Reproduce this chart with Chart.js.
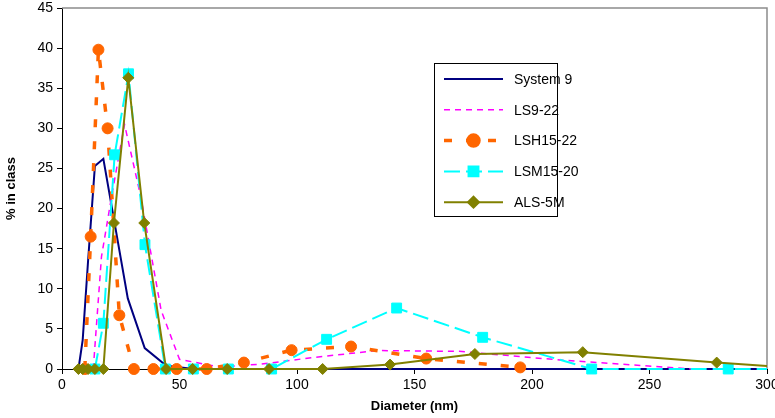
<!DOCTYPE html>
<html>
<head>
<meta charset="utf-8">
<script src="https://cdn.jsdelivr.net/npm/chart.js@4"></script>
<style>
  html, body { margin: 0; padding: 0; background: #fff; }
  canvas { display: block; }
</style>
</head>
<body>
<canvas id="psd" width="775" height="418"></canvas>
<script>
// particle size distributions
const sys9X = [7.0, 8.8, 11.1, 14.0, 17.6, 22.2, 28.0, 35.2, 44.4, 56, 70.5, 88.8, 112, 141, 178, 224, 283, 351];
const sys9Y = [0, 3.6, 13.5, 25.3, 26.2, 18.5, 8.8, 2.6, 0.4, 0, 0, 0, 0, 0, 0, 0, 0, 0];

const ls922X = [13.3, 16.8, 21.1, 26.6, 33.5, 42.2, 50, 67, 84.5, 106, 134, 169, 213, 268];
const ls922Y = [0, 14, 21.5, 30.5, 21.5, 7.3, 1.2, 0.25, 0.6, 1.4, 2.3, 2.2, 1.1, 0];

const lsh1522X = [9.7, 12.2, 15.5, 19.4, 24.4, 30.6, 38.9, 48.8, 61.6, 77.4, 97.7, 123, 155, 195];
const lsh1522Y = [0, 16.5, 39.8, 30.0, 6.7, 0, 0, 0, 0, 0.8, 2.35, 2.8, 1.3, 0.2];

const lsm1520X = [14.0, 17.6, 22.4, 28.3, 35.3, 44.0, 55.9, 70.8, 89.2, 112.6, 142.4, 179, 225.4, 283.5, 351];
const lsm1520Y = [0, 5.7, 26.7, 36.8, 15.5, 0, 0, 0, 0, 3.7, 7.6, 3.95, 0, 0, 0];

const als5mX = [7.0, 8.8, 11.1, 14.0, 17.6, 22.1, 28.2, 35.0, 44.3, 55.6, 70.3, 88.1, 110.9, 139.6, 175.7, 221.6, 278.6, 320];
const als5mY = [0, 0, 0, 0, 0, 18.2, 36.3, 18.2, 0, 0, 0, 0, 0, 0.55, 1.87, 2.1, 0.8, 0];

const xTicks = [0, 50, 100, 150, 200, 250, 300];
const yTicks = [0, 5, 10, 15, 20, 25, 30, 35, 40, 45];

function pts(xs, ys) {
  return xs.map((x, i) => ({ x: x, y: ys[i] }));
}

Chart.defaults.font.family = '"Liberation Sans", Arial, sans-serif';
Chart.defaults.color = '#000';

// gray frame on top/right like the excel plot area
const plotFrame = {
  id: 'plotFrame',
  beforeDatasetsDraw(chart) {
    const a = chart.chartArea, ctx = chart.ctx;
    ctx.save();
    ctx.strokeStyle = '#8c8c8c';
    ctx.lineWidth = 1.5;
    ctx.beginPath();
    ctx.moveTo(a.left, a.top);
    ctx.lineTo(a.right, a.top);
    ctx.lineTo(a.right, a.bottom);
    ctx.stroke();
    ctx.restore();
  }
};

// boxed legend inside the plot
const boxLegend = {
  id: 'boxLegend',
  afterDraw(chart) {
    const ctx = chart.ctx;
    ctx.save();
    ctx.fillStyle = '#fff';
    ctx.fillRect(434, 63, 123, 153);
    ctx.strokeStyle = '#000';
    ctx.lineWidth = 1;
    ctx.strokeRect(434.5, 63.5, 123, 153);
    chart.data.datasets.forEach((ds, i) => {
      const y = 79 + i * 30.8;
      ctx.strokeStyle = ds.borderColor;
      ctx.lineWidth = ds.borderWidth;
      ctx.setLineDash(ds.borderDash || []);
      ctx.beginPath();
      ctx.moveTo(444, y);
      ctx.lineTo(503, y);
      ctx.stroke();
      ctx.setLineDash([]);
      if (ds.pointRadius > 0) {
        ctx.fillStyle = ds.pointBackgroundColor;
        ctx.strokeStyle = ds.pointBorderColor;
        Chart.helpers.drawPoint(ctx, { pointStyle: ds.pointStyle, radius: ds.pointRadius, borderWidth: 1, rotation: 0 }, 473.5, y);
      }
      ctx.fillStyle = '#000';
      ctx.font = '14px "Liberation Sans", Arial, sans-serif';
      ctx.textBaseline = 'middle';
      ctx.fillText(ds.label, 514, y + 1);
    });
    ctx.restore();
  }
};

const clipBox = { left: 12, top: 12, bottom: 12, right: 0 };

new Chart(document.getElementById('psd'), {
  type: 'scatter',
  data: {
    datasets: [
      {
        label: 'System 9', data: pts(sys9X, sys9Y), showLine: true, order: 4,
        borderColor: '#000080', borderWidth: 2, pointRadius: 0, clip: clipBox
      },
      {
        label: 'LS9-22', data: pts(ls922X, ls922Y), showLine: true, order: 3,
        borderColor: '#ff00ff', borderWidth: 1.5, borderDash: [6, 5], pointRadius: 0, clip: clipBox
      },
      {
        label: 'LSH15-22', data: pts(lsh1522X, lsh1522Y), showLine: true, order: 2,
        borderColor: '#ff6600', borderWidth: 3.5, borderDash: [8, 14],
        pointStyle: 'circle', pointRadius: 5.5, pointBackgroundColor: '#ff6600', pointBorderColor: '#ff6600', pointBorderWidth: 1,
        clip: clipBox
      },
      {
        label: 'LSM15-20', data: pts(lsm1520X, lsm1520Y), showLine: true, order: 1,
        borderColor: '#00ffff', borderWidth: 2, borderDash: [16, 6],
        pointStyle: 'rect', pointRadius: 7, pointBackgroundColor: '#00ffff', pointBorderColor: '#00ffff', pointBorderWidth: 1,
        clip: clipBox
      },
      {
        label: 'ALS-5M', data: pts(als5mX, als5mY), showLine: true, order: 0,
        borderColor: '#808000', borderWidth: 2,
        pointStyle: 'rectRot', pointRadius: 5.5, pointBackgroundColor: '#808000', pointBorderColor: '#808000', pointBorderWidth: 1,
        clip: clipBox
      }
    ]
  },
  options: {
    responsive: false,
    animation: false,
    events: [],
    layout: { padding: { top: 8, right: 8, left: 0, bottom: 0 } },
    plugins: { legend: { display: false }, tooltip: { enabled: false } },
    scales: {
      x: {
        type: 'linear', min: 0, max: 300,
        afterBuildTicks: s => { s.ticks = xTicks.map(v => ({ value: v })); },
        ticks: { font: { size: 14 }, padding: 3, maxRotation: 0 },
        grid: { drawOnChartArea: false, tickLength: 5, color: '#000' },
        border: { color: '#000', width: 1 },
        title: { display: true, text: 'Diameter (nm)', font: { size: 13, weight: 'bold' }, padding: { top: 4, bottom: 4 } },
        afterFit: s => { s.height = 49; s.paddingLeft = 0; s.paddingRight = 0; }
      },
      y: {
        type: 'linear', min: 0, max: 45,
        afterBuildTicks: s => { s.ticks = yTicks.map(v => ({ value: v })); },
        ticks: { font: { size: 14 }, padding: 4 },
        grid: { drawOnChartArea: false, tickLength: 5, color: '#000' },
        border: { color: '#000', width: 1 },
        title: { display: true, text: '% in class', font: { size: 13, weight: 'bold' }, padding: { top: 4, bottom: 4 } },
        afterFit: s => { s.width = 62; s.paddingTop = 0; s.paddingBottom = 0; }
      }
    }
  },
  plugins: [plotFrame, boxLegend]
});
</script>
</body>
</html>
